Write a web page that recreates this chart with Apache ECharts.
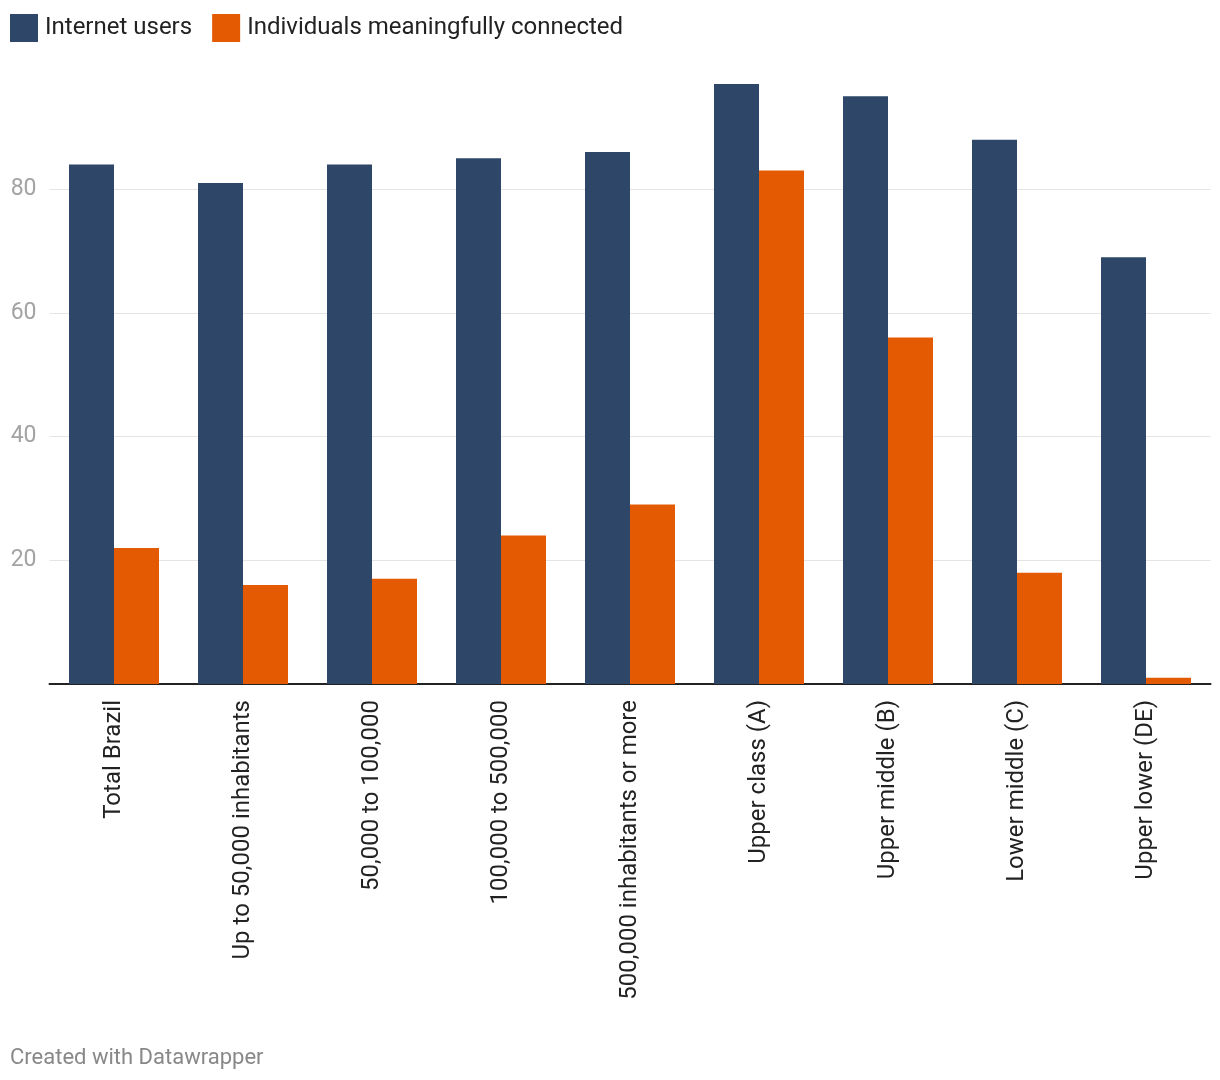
<!DOCTYPE html>
<html>
<head>
<meta charset="utf-8">
<script src="https://cdn.jsdelivr.net/npm/echarts@6/dist/echarts.min.js"></script>
<style>
html,body{margin:0;padding:0;background:#fff;}
#chart{width:1220px;height:1080px;}
</style>
</head>
<body>
<div id="chart"></div>
<script>
const categories = ["Total Brazil","Up to 50,000 inhabitants","50,000 to 100,000","100,000 to 500,000","500,000 inhabitants or more","Upper class (A)","Upper middle (B)","Lower middle (C)","Upper lower (DE)"];
const internetUsers = [84, 81, 84, 85, 86, 97, 95, 88, 69];
const meaningfullyConnected = [22, 16, 17, 24, 29, 83, 56, 18, 1];
const yTicks = [20, 40, 60, 80];

const chart = echarts.init(document.getElementById('chart'), null, {renderer:'canvas'});
const font = 'Roboto, "Noto Sans", sans-serif';
const gl = '#e4e4e4';
chart.setOption({
  animation:false,
  textStyle:{fontFamily:font},
  legend:{
    left:10, top:14, padding:0, icon:'rect', itemWidth:28, itemHeight:28, itemGap:20,
    textStyle:{fontSize:24, color:'#222', fontFamily:font, padding:[2,0,0,2]},
    data:['Internet users','Individuals meaningfully connected']
  },
  grid:{left:49.5, right:9.5, top:84, bottom:396, containLabel:false},
  xAxis:{
    type:'category', data:categories,
    axisTick:{show:false},
    axisLine:{lineStyle:{color:'#222', width:2}},
    axisLabel:{rotate:90, margin:16, fontSize:24, color:'#222', fontFamily:font, interval:0}
  },
  yAxis:{
    type:'value', min:0, max:97, interval:20,
    axisLine:{show:false}, axisTick:{show:false},
    splitLine:{lineStyle:{color:[gl,gl,gl,gl,gl,'rgba(0,0,0,0)'], width:1}},
    axisLabel:{margin:13, fontSize:23, color:'#a3a3a3', fontFamily:font,
      formatter:v=> yTicks.includes(v) ? String(v) : ''}
  },
  series:[
    {name:'Internet users', type:'bar', data:internetUsers, barWidth:45, barGap:'0%', itemStyle:{color:'#2e4768'}},
    {name:'Individuals meaningfully connected', type:'bar', data:meaningfullyConnected, barWidth:45, barGap:'0%', itemStyle:{color:'#e35a02'}}
  ],
  graphic:[{type:'text', left:10, top:1047, style:{text:'Created with Datawrapper', fontSize:22, fill:'#888', fontFamily:font}}]
});
</script>
</body>
</html>
